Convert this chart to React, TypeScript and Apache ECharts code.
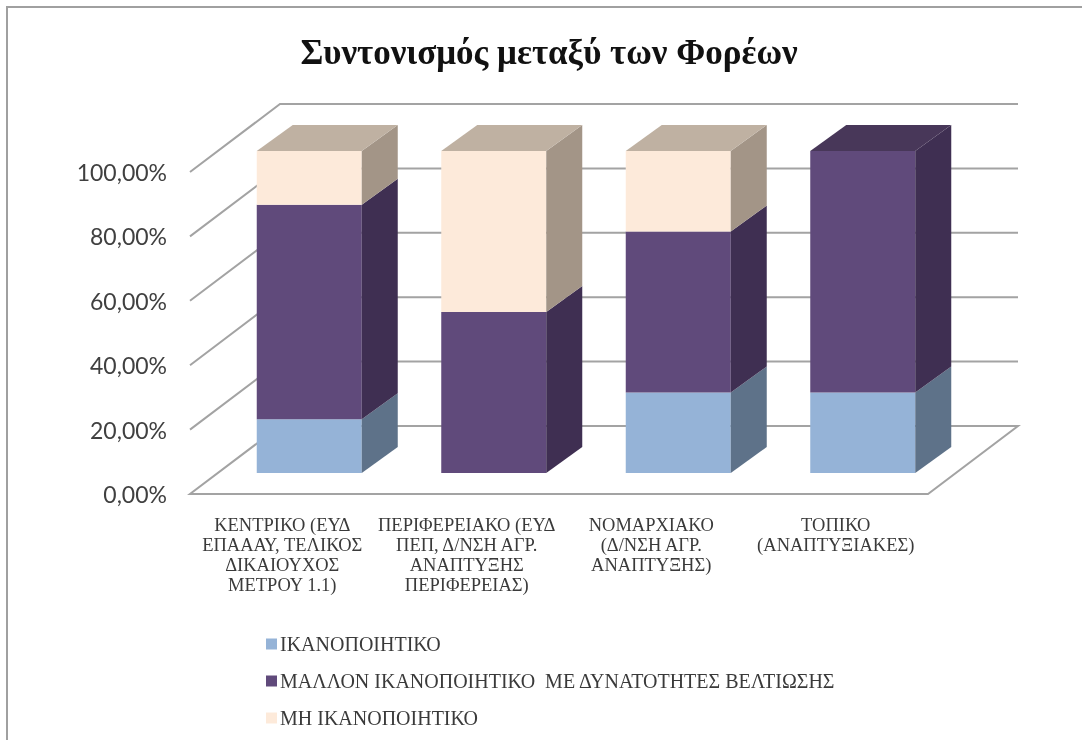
import React, { useEffect, useRef } from "react";
import * as echarts from "echarts";

const titleText = "Συντονισμός μεταξύ των Φορέων";
const categories = [
  "ΚΕΝΤΡΙΚΟ (ΕΥΔ\nΕΠΑΑΑΥ, ΤΕΛΙΚΟΣ\nΔΙΚΑΙΟΥΧΟΣ\nΜΕΤΡΟΥ 1.1)",
  "ΠΕΡΙΦΕΡΕΙΑΚΟ (ΕΥΔ\nΠΕΠ, Δ/ΝΣΗ ΑΓΡ.\nΑΝΑΠΤΥΞΗΣ\nΠΕΡΙΦΕΡΕΙΑΣ)",
  "ΝΟΜΑΡΧΙΑΚΟ\n(Δ/ΝΣΗ ΑΓΡ.\nΑΝΑΠΤΥΞΗΣ)",
  "ΤΟΠΙΚΟ\n(ΑΝΑΠΤΥΞΙΑΚΕΣ)",
];
const satisfactory = [16.67, 0, 25, 25];
const ratherSatisfactory = [66.67, 50, 50, 75];
const notSatisfactory = [16.66, 50, 25, 0];
const gridTicks = [0, 20, 40, 60, 80, 100];
const seriesNames = [
  "ΙΚΑΝΟΠΟΙΗΤΙΚΟ",
  "ΜΑΛΛΟΝ ΙΚΑΝΟΠΟΙΗΤΙΚΟ  ΜΕ ΔΥΝΑΤΟΤΗΤΕΣ ΒΕΛΤΙΩΣΗΣ",
  "ΜΗ ΙΚΑΝΟΠΟΙΗΤΙΚΟ",
];
const frontColors = ["#95B3D7", "#604A7B", "#FDEADA"];
const sideColors = ["#5E7289", "#3F2F52", "#A39587"];
const topColors = ["#7A92AF", "#483759", "#BFB1A2"];

const FLOOR_DX = 90;
const FLOOR_DY = -68;
const BAR_DX = 36;
const BAR_DY = -26;
const BAR_W = 105;
const OFF_X = 27;
const OFF_Y = -21;
const GRID_COLOR = "#A3A3A3";

function poly(points: number[][], fill: string) {
  return { type: "polygon", shape: { points }, style: { fill, stroke: null } };
}

function barRender(idx: number, isTopAt: (c: number) => boolean) {
  return (_p: any, api: any) => {
    const cat = api.value(0);
    const from = api.value(1);
    const to = api.value(2);
    if (to <= from) return { type: "group", children: [] };
    const a = api.coord([cat, from]);
    const b = api.coord([cat, to]);
    const xL = a[0] + OFF_X - BAR_W / 2;
    const xR = xL + BAR_W;
    const yB = a[1] + OFF_Y;
    const yT = b[1] + OFF_Y;
    const children: any[] = [
      poly([[xL, yB], [xR, yB], [xR, yT], [xL, yT]], frontColors[idx]),
      poly([[xR, yB], [xR + BAR_DX, yB + BAR_DY], [xR + BAR_DX, yT + BAR_DY], [xR, yT]], sideColors[idx]),
    ];
    if (isTopAt(cat)) {
      children.push(poly([[xL, yT], [xR, yT], [xR + BAR_DX, yT + BAR_DY], [xL + BAR_DX, yT + BAR_DY]], topColors[idx]));
    }
    return { type: "group", children };
  };
}

export default function App() {
  const ref = useRef<HTMLDivElement>(null);
  useEffect(() => {
    document.body.style.margin = "0";
    document.body.style.background = "#fff";
    const chart = echarts.init(ref.current!, null, { renderer: "svg" });
    const stacks = [satisfactory, ratherSatisfactory, notSatisfactory];
    const starts = categories.map(() => 0);
    const barSeries = stacks.map((vals, idx) => {
      const data = vals.map((v, c) => {
        const row = [c, starts[c], starts[c] + v];
        starts[c] += v;
        return row;
      });
      const isTopAt = (c: number) => {
        let top = -1;
        stacks.forEach((s, i) => { if (s[c] > 0) top = i; });
        return top === idx;
      };
      return {
        type: "custom",
        name: seriesNames[idx],
        coordinateSystem: "cartesian2d",
        renderItem: barRender(idx, isTopAt),
        encode: { x: 0, y: [1, 2] },
        itemStyle: { color: frontColors[idx] },
        data,
        z: 5,
      };
    });
    chart.setOption({
      animation: false,
      backgroundColor: "#fff",
      title: {
        text: titleText,
        left: 544,
        top: 30,
        textAlign: "center",
        textStyle: { fontFamily: "Liberation Serif", fontWeight: "bold", fontSize: 35, color: "#111" },
      },
      legend: {
        orient: "vertical",
        left: 261,
        top: 628,
        itemWidth: 11,
        itemHeight: 11,
        itemGap: 15,
        icon: "rect",
        selectedMode: false,
        data: seriesNames,
        textStyle: { fontFamily: "Liberation Serif", fontSize: 20, color: "#3A3A3A", padding: [0, 0, 0, -2], height: 22, lineHeight: 22 },
      },
      grid: { left: 190, top: 172, width: 738, height: 322, containLabel: false },
      xAxis: {
        type: "category",
        data: categories,
        axisLine: { show: false },
        axisTick: { show: false },
        axisLabel: {
          interval: 0,
          margin: 21,
          fontFamily: "Liberation Serif",
          fontSize: 18.5,
          lineHeight: 20,
          color: "#3A3A3A",
        },
      },
      yAxis: {
        type: "value",
        min: 0,
        max: 100,
        interval: 20,
        axisLine: { show: false },
        axisTick: { show: false },
        splitLine: { show: false },
        axisLabel: {
          margin: 23,
          fontFamily: "Lato",
          fontSize: 23,
          color: "#404040",
          formatter: (v: number) => `${v},00%`,
        },
      },
      graphic: [
        {
          type: "polyline",
          silent: true,
          shape: { points: [[7, 740], [7, 7], [1082, 7]] },
          style: { stroke: "#A0A0A0", lineWidth: 2, fill: null },
        },
      ],
      series: [
        {
          type: "custom",
          name: "walls",
          coordinateSystem: "cartesian2d",
          silent: true,
          z: 1,
          data: gridTicks.map((t) => [0, t]),
          encode: { y: 1 },
          renderItem: (_p: any, api: any) => {
            const tick = api.value(1);
            const cs = _p.coordSys;
            const p = api.coord([0, tick]);
            const x0 = cs.x;
            const xEnd = cs.x + cs.width;
            const style = { stroke: GRID_COLOR, lineWidth: 2, fill: null };
            if (tick === 0) {
              return {
                type: "polygon",
                shape: {
                  points: [
                    [x0, p[1]],
                    [xEnd, p[1]],
                    [xEnd + FLOOR_DX, p[1] + FLOOR_DY],
                    [x0 + FLOOR_DX, p[1] + FLOOR_DY],
                  ],
                },
                style: { stroke: GRID_COLOR, lineWidth: 2, fill: "#fff" },
              };
            }
            return {
              type: "polyline",
              shape: {
                points: [
                  [x0, p[1]],
                  [x0 + FLOOR_DX, p[1] + FLOOR_DY],
                  [xEnd + FLOOR_DX, p[1] + FLOOR_DY],
                ],
              },
              style,
            };
          },
        },
        ...barSeries,
      ],
    });
    return () => chart.dispose();
  }, []);
  return <div ref={ref} style={{ width: 1082, height: 740, filter: "blur(0.4px)" }} />;
}
